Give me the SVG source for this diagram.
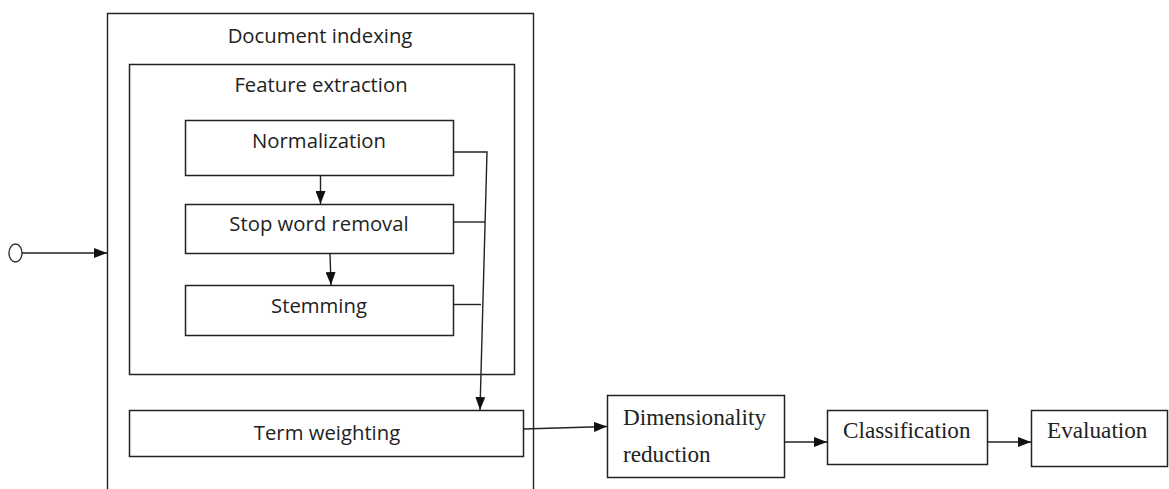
<svg xmlns="http://www.w3.org/2000/svg" width="1169" height="489" viewBox="0 0 1169 489">
<style>
.box{fill:#fff;stroke:#222;stroke-width:1.5}
.ln{fill:none;stroke:#222;stroke-width:1.4}
.sans{font-family:"Open Sans","Noto Sans",sans-serif;font-size:20.3px;fill:#222;text-anchor:middle}
.serif{font-family:"Liberation Serif","Times New Roman",serif;font-size:23.2px;fill:#222}
</style>
<defs>
<marker id="ah" viewBox="0 0 13 10" refX="13" refY="5" markerWidth="13" markerHeight="10" markerUnits="userSpaceOnUse" orient="auto">
<path d="M0,0 L13,5 L0,10 z" fill="#111"/>
</marker>
</defs>
<rect width="1169" height="489" fill="#fff"/>
<g id="start">
<ellipse cx="15.5" cy="253" rx="6.5" ry="9" fill="#fff" stroke="#333" stroke-width="1.4"/>
</g>
<g id="document-indexing">
<path class="ln" d="M107.5,489 V13.5 H533.5 V489"/>
<text class="sans" x="320" y="43">Document indexing</text>
</g>
<g id="feature-extraction">
<rect class="box" x="129.5" y="64.5" width="385" height="310"/>
<text class="sans" x="321" y="92">Feature extraction</text>
</g>
<g id="normalization">
<rect class="box" x="185.5" y="120.5" width="268" height="55"/>
<text class="sans" x="319" y="148">Normalization</text>
</g>
<g id="stop-word-removal">
<rect class="box" x="185.5" y="204.5" width="268" height="49"/>
<text class="sans" x="319" y="231">Stop word removal</text>
</g>
<g id="stemming">
<rect class="box" x="185.5" y="285.5" width="268" height="50"/>
<text class="sans" x="319" y="313">Stemming</text>
</g>
<g id="term-weighting">
<rect class="box" x="129.5" y="410.5" width="394" height="46"/>
<text class="sans" x="327" y="440">Term weighting</text>
</g>
<g id="dimensionality-reduction">
<rect class="box" x="607.5" y="395.5" width="177" height="82"/>
<text class="serif" x="623" y="425">Dimensionality</text>
<text class="serif" x="623" y="462">reduction</text>
</g>
<g id="classification">
<rect class="box" x="827.5" y="410.5" width="160" height="54"/>
<text class="serif" x="843" y="438">Classification</text>
</g>
<g id="evaluation">
<rect class="box" x="1031.5" y="410.5" width="136" height="56"/>
<text class="serif" x="1047" y="438">Evaluation</text>
</g>
<g id="connectors">
<line class="ln" x1="22" y1="253" x2="107" y2="253" marker-end="url(#ah)"/>
<line class="ln" x1="320.5" y1="175.5" x2="320.5" y2="204" marker-end="url(#ah)"/>
<line class="ln" x1="330" y1="253.5" x2="331" y2="285" marker-end="url(#ah)"/>
<path class="ln" d="M453.5,152 H487 L480,410" marker-end="url(#ah)"/>
<line class="ln" x1="453.5" y1="222" x2="485" y2="222"/>
<line class="ln" x1="453.5" y1="304.5" x2="481" y2="304.5"/>
<line class="ln" x1="523.5" y1="429" x2="607" y2="426.5" marker-end="url(#ah)"/>
<line class="ln" x1="784.5" y1="442" x2="827" y2="442" marker-end="url(#ah)"/>
<line class="ln" x1="987.5" y1="442" x2="1031" y2="442" marker-end="url(#ah)"/>
</g>
</svg>
